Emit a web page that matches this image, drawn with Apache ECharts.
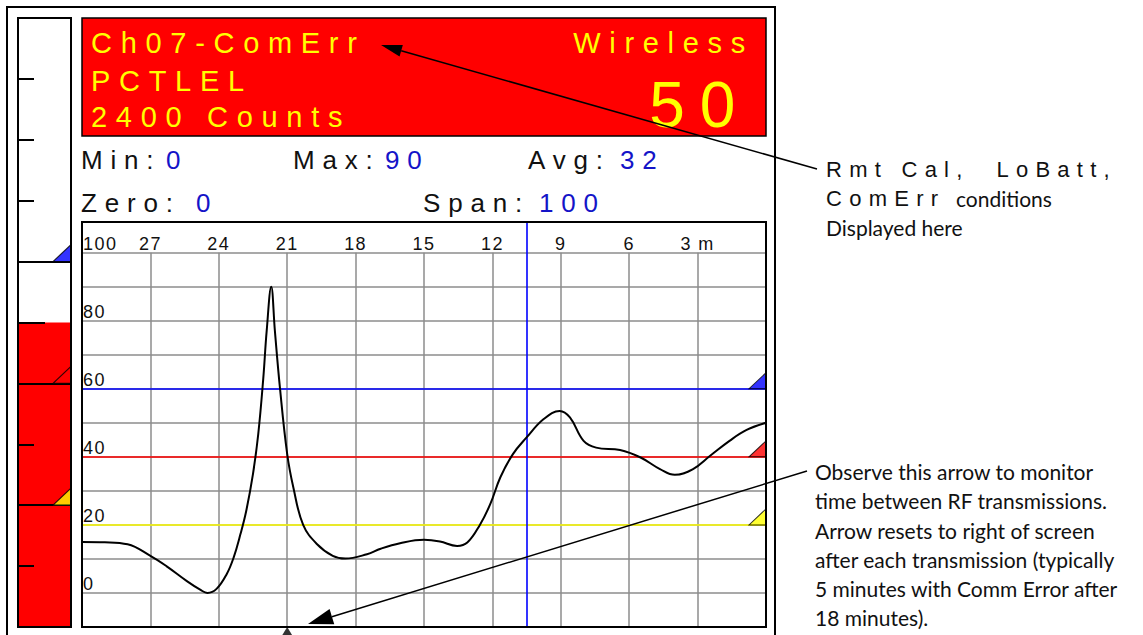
<!DOCTYPE html>
<html>
<head>
<meta charset="utf-8">
<script src="https://cdn.jsdelivr.net/npm/echarts@6/dist/echarts.min.js"></script>
<style>
html,body{margin:0;padding:0;background:#fff;}
#chart{width:1143px;height:635px;}
#chart text[style*="Liberation Sans"]{letter-spacing:0.3em;}
#chart text[style*=" 18px"]{letter-spacing:0.08em;}
#chart text[style*=" 64px"]{letter-spacing:0.23em;}
#chart text[style*=" 22px"]{letter-spacing:0.33em;}
</style>
</head>
<body>
<div id="chart"></div>
<script>
// ---- data ----
const minutesAgo = [30, 29, 28, 27, 26.3, 25.4, 24.8, 24.5, 24.1, 23.65, 23.35, 23.05, 22.8, 22.5, 22.27, 22.05, 21.9, 21.7, 21.54, 21.32, 21.0, 20.73, 20.3, 19.7, 19.0, 18.45, 17.5, 16.9, 16.05, 15.0, 14.3, 13.55, 13.1, 12.55, 12.1, 11.65, 11.1, 10.5, 9.75, 9.05, 8.6, 8.0, 7.45, 6.4, 5.5, 4.65, 4.0, 3.2, 2.45, 1.6, 0.85, 0];
const signal     = [15, 14.9, 14.3, 10.9, 7.9, 3.5, 0.9, 0, 1.2, 5.6, 10.4, 17.3, 24, 35, 46.7, 63, 77, 90, 77, 60.4, 40.8, 31, 20, 14.4, 10.9, 10.1, 11.4, 13, 14.6, 15.6, 15.1, 13.8, 14.8, 20, 26, 34, 40.8, 45.7, 51.1, 53.5, 51.6, 44.7, 42.7, 42, 39.8, 36.4, 34.7, 36.4, 40.3, 44.7, 47.9, 50];
const xGridTimes = [27, 24, 21, 18, 15, 12, 9, 6, 3];
const xTickLabels = ['27', '24', '21', '18', '15', '12', '9', '6', '3 m'];
const yLabelValues = [0, 20, 40, 60, 80, 100];
const alarmLevels = [60, 40, 20];
const alarmColors = ['#0000ff', '#ff0000', '#ffff00'];
const barCategory = ['Ch07'];
const gaugeValue = [50];
const cursorMinutes = 10.5;
const lastTransmission = 21;
const statLabels = ['Min:', 'Max:', 'Avg:', 'Zero:', 'Span:'];
const statValues = ['0', '90', '32', '0', '100'];
const headerLines = ['Ch07-ComErr', 'PCTLEL', '2400 Counts'];
const headerRight = 'Wireless';
const readout = '50';

const chart = echarts.init(document.getElementById('chart'), null, {renderer: 'svg'});

const TRI = 'path://M0,16L18,16L18,0Z';
const LIB = 'Liberation Sans';
const NOTE = 'Lato';

const gridLineData = xGridTimes.map(t => [{coord: [t, 100]}, {coord: [t, -10]}]);
const thresholdData = alarmLevels.map((v, i) => ({yAxis: v, lineStyle: {color: alarmColors[i], width: 1.6}}));

function txt(text, x, y, font, fill, align) {
  return {type: 'text', x: x, y: y, z: 50, silent: true,
    style: {text: text, font: font, fill: fill, textAlign: align || 'left', textVerticalAlign: 'middle'}};
}
function arrow(x1, y1, x2, y2, len, half) {
  const dx = x2 - x1, dy = y2 - y1, L = Math.sqrt(dx * dx + dy * dy);
  const ux = dx / L, uy = dy / L, nx = -uy, ny = ux;
  const bx = x2 - ux * len, by = y2 - uy * len;
  return [
    {type: 'line', z: 60, silent: true, shape: {x1: x1, y1: y1, x2: bx, y2: by}, style: {stroke: '#000', lineWidth: 1.5}},
    {type: 'polygon', z: 60, silent: true, shape: {points: [[x2, y2], [bx + nx * half, by + ny * half], [bx - nx * half, by - ny * half]]}, style: {fill: '#000'}}
  ];
}

const statPos = [[81, 160, 166], [293, 160, 385], [528, 160, 620], [81, 203, 196], [423, 203, 539]];
const statTexts = [];
statLabels.forEach((s, i) => {
  statTexts.push(txt(s, statPos[i][0], statPos[i][1], '26px ' + LIB, '#111', 'left'));
  statTexts.push(txt(statValues[i], statPos[i][2], statPos[i][1], '26px ' + LIB, '#1414c8', 'left'));
});

const option = {
  animation: false,
  backgroundColor: '#fff',
  grid: [
    {left: 82, top: 222, width: 684, height: 405, show: true, borderColor: '#000', borderWidth: 2, backgroundColor: 'transparent', z: 10},
    {left: 18, top: 18, width: 53, height: 609, show: true, borderColor: '#000', borderWidth: 2, backgroundColor: 'transparent', z: 10}
  ],
  xAxis: [
    {gridIndex: 0, type: 'value', min: 0, max: 30, interval: 3, inverse: true, position: 'top',
      axisLine: {show: false}, axisTick: {show: false}, splitLine: {show: false},
      axisLabel: {inside: true, margin: 22, verticalAlign: 'middle', fontFamily: LIB, fontSize: 18, color: '#111',
        formatter: v => { const k = xGridTimes.indexOf(v); return k >= 0 ? xTickLabels[k] : ''; }}},
    {gridIndex: 1, type: 'category', data: barCategory, show: false},
    {gridIndex: 1, type: 'value', min: 0, max: 1, show: false}
  ],
  yAxis: [
    {gridIndex: 0, type: 'value', min: -10, max: 109, interval: 10,
      axisLine: {show: false}, axisTick: {show: false},
      splitLine: {show: true, lineStyle: {color: '#8c8c8c', width: 1.5}},
      axisLabel: {inside: true, margin: 1, verticalAlign: 'bottom', fontFamily: LIB, fontSize: 18, color: '#111',
        formatter: v => yLabelValues.indexOf(v) >= 0 ? String(v) : ''}},
    {gridIndex: 1, type: 'value', position: 'left', min: 0, max: 100, interval: 10, z: 6,
      axisLine: {show: false}, axisLabel: {show: false}, splitLine: {show: false},
      axisTick: {show: true, inside: true, length: 16, lineStyle: {color: '#000', width: 2}}},
    {gridIndex: 1, type: 'value', position: 'left', offset: 0, min: 0, max: 100, interval: 50, z: 6,
      axisLine: {show: false}, axisLabel: {show: false}, splitLine: {show: false},
      axisTick: {show: true, inside: true, length: 27, lineStyle: {color: '#000', width: 2}}}
  ],
  series: [
    {type: 'line', name: 'signal', xAxisIndex: 0, yAxisIndex: 0, z: 3, silent: true,
      data: minutesAgo.map((t, i) => [t, signal[i]]),
      smooth: 0.4, showSymbol: false, lineStyle: {color: '#000', width: 2},
      markLine: {z: 1, silent: true, animation: false, symbol: ['none', 'none'], label: {show: false},
        lineStyle: {type: 'solid', color: '#8c8c8c', width: 1.5},
        data: gridLineData.concat(thresholdData).concat([{xAxis: cursorMinutes, lineStyle: {color: '#0000ff', width: 1.6}}])}},
    {type: 'scatter', xAxisIndex: 0, yAxisIndex: 0, z: 7, silent: true, clip: false,
      symbol: TRI, symbolSize: [17, 16], symbolOffset: ['-50%', '-50%'],
      data: alarmLevels.map((v, i) => ({value: [0, v], itemStyle: {color: alarmColors[i], borderColor: '#000', borderWidth: 1}}))},
    {type: 'scatter', xAxisIndex: 0, yAxisIndex: 0, z: 7, silent: true, clip: false,
      symbol: 'triangle', symbolSize: [11, 9], symbolOffset: [0, 4.5],
      itemStyle: {color: '#000'}, data: [[lastTransmission, -10]]},
    {type: 'bar', xAxisIndex: 1, yAxisIndex: 1, z: 2, silent: true, data: gaugeValue, barWidth: '100%',
      itemStyle: {color: '#ff0000'},
      markLine: {silent: true, animation: false, symbol: ['none', 'none'], label: {show: false},
        lineStyle: {type: 'solid', color: '#000', width: 2},
        data: alarmLevels.map(v => ({yAxis: v}))}},
    {type: 'scatter', xAxisIndex: 2, yAxisIndex: 1, z: 8, silent: true, clip: false,
      symbol: TRI, symbolSize: [18, 17], symbolOffset: ['-50%', '-50%'],
      data: alarmLevels.map((v, i) => ({value: [1, v], itemStyle: {color: alarmColors[i], borderColor: '#000', borderWidth: 1.2}}))}
  ],
  graphic: [
    {type: 'rect', z: 40, silent: true, shape: {x: 7, y: 7, width: 768, height: 660}, style: {fill: 'none', stroke: '#000', lineWidth: 2}},
    {type: 'rect', z: 40, silent: true, shape: {x: 82, y: 18, width: 684, height: 118}, style: {fill: '#ff0000', stroke: '#000', lineWidth: 1.5}},
    txt(headerLines[0], 91, 43, '29px ' + LIB, '#ffff00'),
    txt(headerLines[1], 91, 81, '29px ' + LIB, '#ffff00'),
    txt(headerLines[2], 91, 117, '29px ' + LIB, '#ffff00'),
    txt(headerRight, 754, 43, '29px ' + LIB, '#ffff00', 'right'),
    txt(readout, 750, 105, '64px ' + LIB, '#ffff00', 'right')
  ].concat(statTexts).concat([
    txt('Rmt Cal,  LoBatt,', 826, 169, '22px ' + LIB, '#111'),
    txt('ComErr', 826, 198, '22px ' + LIB, '#111'),
    txt('conditions', 956, 198, '21px ' + NOTE, '#111'),
    txt('Displayed here', 826, 227, '21px ' + NOTE, '#111'),
    txt('Observe this arrow to monitor', 815, 471, '21px ' + NOTE, '#111'),
    txt('time between RF transmissions.', 815, 500, '21px ' + NOTE, '#111'),
    txt('Arrow resets to right of screen', 815, 530, '21px ' + NOTE, '#111'),
    txt('after each transmission (typically', 815, 559, '21px ' + NOTE, '#111'),
    txt('5 minutes with Comm Error after', 815, 588, '21px ' + NOTE, '#111'),
    txt('18 minutes).', 815, 617, '21px ' + NOTE, '#111')
  ]).concat(arrow(817, 169, 381, 45, 21, 6)).concat(arrow(807, 471, 308, 624, 25, 8))
};
chart.setOption(option);
</script>
</body>
</html>
